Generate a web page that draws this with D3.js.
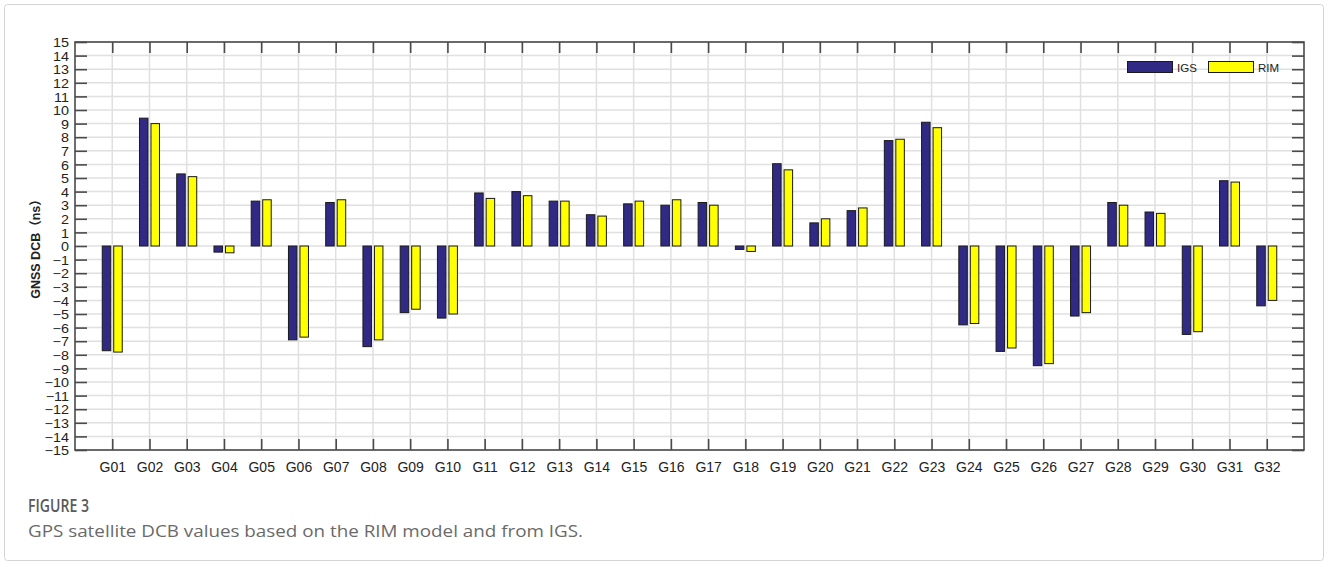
<!DOCTYPE html>
<html>
<head>
<meta charset="utf-8">
<script src="https://cdn.jsdelivr.net/npm/d3@7"></script>
<style>
  html, body { margin: 0; padding: 0; background: #fff; }
  svg { display: block; }
</style>
</head>
<body>
<svg id="chart" width="1328" height="565"></svg>
<script>
// Satellites (PRN) along the x axis
const satellites = ["G01","G02","G03","G04","G05","G06","G07","G08","G09","G10",
  "G11","G12","G13","G14","G15","G16","G17","G18","G19","G20",
  "G21","G22","G23","G24","G25","G26","G27","G28","G29","G30","G31","G32"];

// DCB values in ns
const igsValues = [-7.7, 9.4, 5.3, -0.45, 3.3, -6.9, 3.2, -7.4, -4.9, -5.3,
  3.9, 4.0, 3.3, 2.3, 3.1, 3.0, 3.2, -0.25, 6.05, 1.7,
  2.6, 7.75, 9.1, -5.8, -7.75, -8.8, -5.15, 3.2, 2.5, -6.5, 4.8, -4.4];
const rimValues = [-7.8, 9.0, 5.1, -0.5, 3.4, -6.7, 3.4, -6.9, -4.65, -5.0,
  3.5, 3.7, 3.3, 2.2, 3.3, 3.4, 3.0, -0.4, 5.6, 2.0,
  2.8, 7.85, 8.7, -5.7, -7.5, -8.65, -4.9, 3.0, 2.4, -6.3, 4.7, -4.0];

const seriesNames = ["IGS", "RIM"];
const seriesColors = ["#302a84", "#ffff00"];
const yTicks = d3.range(-15, 16);

const svg = d3.select("#chart");

// outer figure frame
svg.append("rect")
  .attr("x", 4.5).attr("y", 4.5)
  .attr("width", 1319).attr("height", 556)
  .attr("rx", 3)
  .attr("fill", "none")
  .attr("stroke", "#d4d4d4")
  .attr("stroke-width", 1);

const plot = { left: 75, right: 1304, top: 42, bottom: 450 };

const x = d3.scalePoint()
  .domain(satellites)
  .range([plot.left, plot.right])
  .padding(1);

const y = d3.scaleLinear()
  .domain([-15, 15])
  .range([plot.bottom, plot.top]);

const sub = d3.scaleBand()
  .domain(seriesNames)
  .range([-10, 10])
  .paddingInner(0.26);

const g = svg.append("g");

// grid
g.append("g").selectAll("line")
  .data(yTicks)
  .join("line")
  .attr("x1", plot.left).attr("x2", plot.right)
  .attr("y1", d => y(d)).attr("y2", d => y(d))
  .attr("stroke", "#e0e0e0")
  .attr("stroke-width", 1.5);

g.append("g").selectAll("line")
  .data(satellites)
  .join("line")
  .attr("x1", d => x(d)).attr("x2", d => x(d))
  .attr("y1", plot.top).attr("y2", plot.bottom)
  .attr("stroke", "#e0e0e0")
  .attr("stroke-width", 1.5);

// axes with inward ticks
const axisColor = "#4a4a4a";
const tickLen = 11;

function styleAxis(sel) {
  sel.select(".domain").remove();
  sel.selectAll(".tick line").attr("stroke", axisColor).attr("stroke-width", 1.6);
}

const bottomAxis = g.append("g")
  .attr("transform", `translate(0,${plot.bottom})`)
  .call(d3.axisBottom(x).tickSize(-tickLen).tickPadding(tickLen + 1))
  .call(styleAxis);
bottomAxis.selectAll(".tick text")
  .attr("font-family", "Liberation Sans, Arial, sans-serif")
  .attr("font-size", 14)
  .attr("fill", "#222");

g.append("g")
  .attr("transform", `translate(0,${plot.top})`)
  .call(d3.axisTop(x).tickSize(-tickLen).tickFormat(""))
  .call(styleAxis);

const leftAxis = g.append("g")
  .attr("transform", `translate(${plot.left},0)`)
  .call(d3.axisLeft(y).tickValues(yTicks).tickSize(-12).tickFormat(d3.format("d")))
  .call(styleAxis);
// wide, short tick labels on the y axis
leftAxis.selectAll(".tick text")
  .attr("x", null).attr("dy", null)
  .attr("text-anchor", "end")
  .attr("dominant-baseline", "central")
  .attr("transform", "translate(-6,0.5) scale(1.15,1)")
  .attr("font-family", "Liberation Sans, Arial, sans-serif")
  .attr("font-size", 12.5)
  .attr("fill", "#222");

g.append("g")
  .attr("transform", `translate(${plot.right},0)`)
  .call(d3.axisRight(y).tickValues(yTicks).tickSize(-12).tickFormat(""))
  .call(styleAxis);

// plot box
g.append("rect")
  .attr("x", plot.left).attr("y", plot.top)
  .attr("width", plot.right - plot.left)
  .attr("height", plot.bottom - plot.top)
  .attr("fill", "none")
  .attr("stroke", axisColor)
  .attr("stroke-width", 1.6);

// bars
const seriesData = [igsValues, rimValues];
seriesNames.forEach((name, si) => {
  g.append("g").selectAll("rect")
    .data(satellites.map((s, i) => ({ sat: s, v: seriesData[si][i] })))
    .join("rect")
    .attr("x", d => x(d.sat) + sub(name))
    .attr("width", sub.bandwidth())
    .attr("y", d => y(Math.max(0, d.v)))
    .attr("height", d => Math.abs(y(d.v) - y(0)))
    .attr("fill", seriesColors[si])
    .attr("stroke", "#1a1a1a")
    .attr("stroke-width", 1);
});

// y axis title
svg.append("text")
  .attr("transform", `translate(40,${y(0)}) rotate(-90)`)
  .attr("text-anchor", "middle")
  .attr("font-family", "Liberation Sans, Arial, 'Noto Sans CJK SC', sans-serif")
  .attr("font-weight", "bold")
  .attr("font-size", 12.5)
  .attr("fill", "#222")
  .text("GNSS DCB（ns）");

// legend
const legend = svg.append("g");
const legendItems = [
  { name: "IGS", color: seriesColors[0], x: 1127 },
  { name: "RIM", color: seriesColors[1], x: 1208 }
];
legendItems.forEach(it => {
  legend.append("rect")
    .attr("x", it.x + 0.5).attr("y", 61.5)
    .attr("width", 45).attr("height", 11)
    .attr("fill", it.color)
    .attr("stroke", "#1a1a1a")
    .attr("stroke-width", 1);
  legend.append("text")
    .attr("x", it.x + 50).attr("y", 71.5)
    .attr("font-family", "Liberation Sans, Arial, sans-serif")
    .attr("font-size", 11.5)
    .attr("fill", "#222")
    .text(it.name);
});

// caption
svg.append("text")
  .attr("x", 28).attr("y", 512)
  .attr("font-family", "'Open Sans', sans-serif")
  .attr("font-weight", 600)
  .attr("font-size", 18)
  .attr("fill", "#5a5a5a")
  .attr("textLength", 61)
  .attr("lengthAdjust", "spacingAndGlyphs")
  .text("FIGURE 3");

svg.append("text")
  .attr("x", 28).attr("y", 537)
  .attr("font-family", "'Open Sans', sans-serif")
  .attr("font-size", 16)
  .attr("fill", "#6a6a6a")
  .attr("textLength", 555)
  .attr("lengthAdjust", "spacingAndGlyphs")
  .text("GPS satellite DCB values based on the RIM model and from IGS.");
</script>
</body>
</html>
